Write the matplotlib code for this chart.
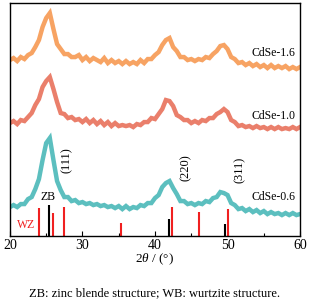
import numpy as np
import matplotlib
matplotlib.use("Agg")
from matplotlib import pyplot as plt

plt.rcParams["font.family"] = ["Liberation Serif", "DejaVu Serif"]
plt.rcParams["mathtext.fontset"] = "custom"
plt.rcParams["mathtext.it"] = "Liberation Serif:italic"
plt.rcParams["mathtext.rm"] = "Liberation Serif"

# 2theta grid (deg), 0.5 deg steps
two_theta = np.arange(20, 60.01, 0.5)

# offset intensities (arb. units)
cdse_16 = [176, 178, 175, 179, 177, 181, 183, 189, 196, 209, 218, 223, 207, 192, 187, 182,
           182, 179, 179, 181, 176, 179, 175, 178, 176, 174, 178, 173, 176, 173, 175, 172,
           175, 172, 174, 172, 176, 173, 177, 177, 181, 184, 191, 196, 198, 189, 185, 179,
           179, 176, 177, 175, 177, 176, 179, 178, 182, 185, 190, 191, 187, 179, 177, 173,
           174, 171, 173, 170, 172, 169, 171, 168, 171, 168, 170, 168, 170, 167, 169, 167, 169]
cdse_10 = [113, 115, 112, 116, 115, 119, 123, 131, 137, 149, 155, 159, 147, 134, 123, 122,
           118, 119, 116, 117, 114, 117, 113, 116, 112, 115, 111, 114, 110, 113, 110, 111,
           110, 111, 109, 112, 111, 114, 114, 118, 117, 122, 127, 136, 135, 130, 121, 119,
           116, 116, 113, 115, 113, 116, 115, 118, 118, 122, 124, 127, 124, 116, 114, 110,
           111, 109, 110, 108, 110, 108, 109, 107, 109, 107, 109, 107, 108, 107, 109, 107, 109]
cdse_06 = [29, 31, 29, 32, 32, 37, 39, 47, 57, 76, 93, 98, 76, 55, 46, 39,
           39, 35, 36, 33, 34, 32, 33, 31, 32, 30, 31, 29, 30, 28, 30, 27,
           30, 27, 29, 28, 31, 30, 33, 33, 38, 41, 49, 53, 55, 48, 42, 35,
           35, 32, 33, 31, 33, 32, 35, 34, 38, 39, 44, 43, 41, 33, 31, 27,
           28, 25, 27, 24, 26, 23, 25, 22, 24, 22, 23, 21, 23, 21, 23, 21, 22]

series = [("CdSe-1.6", cdse_16, "#F7A363", 183),
          ("CdSe-1.0", cdse_10, "#EA7F6B", 120),
          ("CdSe-0.6", cdse_06, "#5CBFBF", 39)]

# reference patterns
zb_pos = [25.35, 41.9, 49.7]
zb_int = [31, 17, 12]
wz_pos = [24.0, 25.9, 27.5, 35.3, 42.3, 46.0, 50.0]
wz_int = [28, 23, 29, 13, 29, 24, 27]

fig = plt.figure(figsize=(3.1, 3.05), dpi=100)
ax = fig.add_axes([0.032, 0.226, 0.936, 0.764])

for name, vals, color, label_y in series:
    ax.plot(two_theta, vals, color=color, lw=3.2, solid_joinstyle="miter")
    ax.text(59.3, label_y, name, ha="right", va="center", fontsize=8.5)

ax.vlines(wz_pos, 0, wz_int, color="#F02020", lw=1.5)
ax.vlines(zb_pos, 0, zb_int, color="black", lw=1.5)

ax.text(22.2, 11, "WZ", color="#F02020", ha="center", va="center", fontsize=8.5)
ax.text(25.2, 39, "ZB", ha="center", va="center", fontsize=8.5)
for hkl, x, y in [("(111)", 27.9, 76), ("(220)", 44.3, 68), ("(311)", 51.7, 66)]:
    ax.text(x, y, hkl, rotation=90, ha="center", va="center", fontsize=9)

ax.set_xlim(20, 60)
ax.set_ylim(0, 233)
ax.set_xticks([20, 30, 40, 50, 60])
ax.set_xticks([25, 35, 45, 55], minor=True)
ax.set_yticks([])
ax.tick_params(axis="x", direction="in", length=3.5, width=0.8, labelsize=10, pad=2)
ax.tick_params(axis="x", which="minor", direction="in", length=2, width=0.8)
for s in ax.spines.values():
    s.set_linewidth(1.0)
ax.set_xlabel(r"$2θ$ / (°)", fontsize=9.5, labelpad=0)

fig.text(0.5, 0.04, "ZB: zinc blende structure; WB: wurtzite structure.",
         ha="center", va="center", fontsize=9)

fig.savefig("out.png", dpi=100)
